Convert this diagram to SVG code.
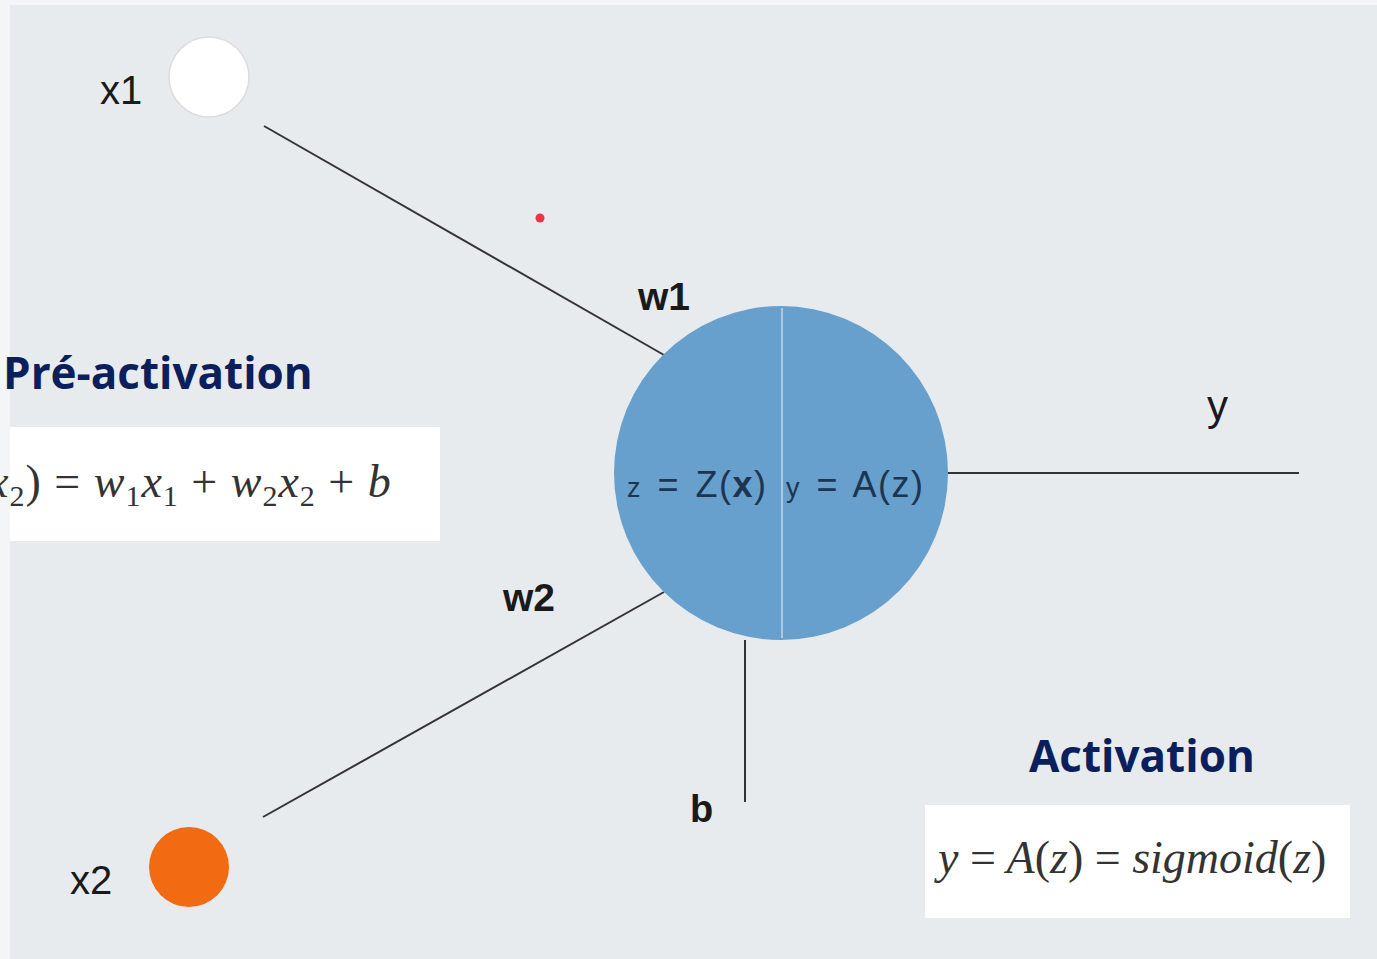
<svg xmlns="http://www.w3.org/2000/svg" width="1377" height="959" viewBox="0 0 1377 959">
<style>
.lbl{font-family:"Liberation Sans",Arial,sans-serif;fill:#1a1a1a}
.bold{font-weight:bold}
.title{font-family:"Open Sans","Noto Sans",sans-serif;font-weight:bold;fill:#0b1f5c;font-size:44px}
.math{font-family:"Liberation Serif","Times New Roman",serif;font-style:italic;fill:#333;font-size:46px}
.up{font-style:normal}
.conn{stroke:#333;stroke-width:2;fill:none}
.box{fill:#ffffff}
.inner{font-family:"Liberation Sans",Arial,sans-serif;fill:#1c3550;font-size:36px;letter-spacing:1.5px;word-spacing:4px}
</style>
<rect x="0" y="0" width="1377" height="959" fill="#f4f5f6"/>
<rect x="10" y="5" width="1367" height="954" fill="#e8ebee"/>
<g id="connectors">
<line class="conn" x1="264" y1="126" x2="664" y2="355"/>
<line class="conn" x1="263" y1="817" x2="664" y2="592"/>
<line class="conn" x1="745" y1="640" x2="745" y2="802"/>
<line class="conn" x1="948" y1="473" x2="1299" y2="473"/>
</g>
<g id="x1">
<circle cx="209" cy="77" r="40" fill="#ffffff" stroke="#dcdcdc" stroke-width="1.5"/>
<text class="lbl" x="100" y="104" font-size="40">x1</text>
</g>
<g id="x2">
<circle cx="189" cy="867" r="40" fill="#f26a12"/>
<text class="lbl" x="70" y="894" font-size="40">x2</text>
</g>
<g id="neuron">
<circle cx="781" cy="473" r="167" fill="#67a0cc"/>
<line x1="782" y1="308" x2="782" y2="638" stroke="#a9c8e2" stroke-width="2"/>
<text class="inner" x="627" y="497"><tspan font-size="27">z</tspan> = Z(<tspan font-weight="bold">x</tspan>)</text>
<text class="inner" x="786" y="497"><tspan font-size="27">y</tspan> = A(z)</text>
</g>
<g id="labels">
<text class="lbl bold" x="638" y="310" font-size="39">w1</text>
<text class="lbl bold" x="503" y="611" font-size="39">w2</text>
<text class="lbl bold" x="690" y="822" font-size="38">b</text>
<text class="lbl" x="1207" y="420" font-size="42">y</text>
</g>
<g id="dot">
<circle cx="540" cy="218" r="4.5" fill="#e8364a"/>
</g>
<g id="preactivation">
<text class="title" x="3" y="389">Pré-activation</text>
<rect class="box" x="10" y="427" width="430" height="114"/>
<text class="math" x="-12" y="497" letter-spacing="1">x<tspan font-size="30" dy="9" class="up">2</tspan><tspan dy="-9" class="up">) = </tspan>w<tspan font-size="30" dy="9" class="up">1</tspan><tspan dy="-9">x</tspan><tspan font-size="30" dy="9" class="up">1</tspan><tspan dy="-9" class="up"> + </tspan>w<tspan font-size="30" dy="9" class="up">2</tspan><tspan dy="-9">x</tspan><tspan font-size="30" dy="9" class="up">2</tspan><tspan dy="-9" class="up"> + </tspan>b</text>
</g>
<g id="activation">
<text class="title" x="1029" y="772">Activation</text>
<rect class="box" x="925" y="805" width="425" height="113"/>
<text class="math" x="938" y="873">y <tspan class="up">=</tspan> A<tspan class="up">(</tspan>z<tspan class="up">) = </tspan>sigmoid<tspan class="up">(</tspan>z<tspan class="up">)</tspan></text>
</g>
</svg>
